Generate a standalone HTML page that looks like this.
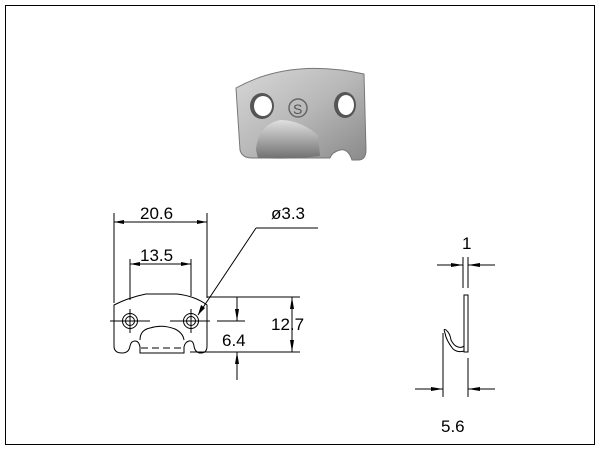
<!DOCTYPE html>
<html><head><style>
html,body{margin:0;padding:0;background:#fff;}
svg{display:block;}
text{font-family:"Liberation Sans",sans-serif;font-size:17px;fill:#000;}
</style></head><body>
<svg width="600" height="450" viewBox="0 0 600 450">
<defs>
<linearGradient id="g" x1="0" y1="0" x2="1" y2="1">
<stop offset="0" stop-color="#d8d8d8"/><stop offset="0.5" stop-color="#b8b8b8"/><stop offset="1" stop-color="#8a8a8a"/>
</linearGradient>
<linearGradient id="g2" x1="0" y1="0" x2="0" y2="1">
<stop offset="0" stop-color="#e0e0e0"/><stop offset="1" stop-color="#707070"/>
</linearGradient>
</defs>
<rect x="5.5" y="5.5" width="589" height="439" fill="none" stroke="#000" stroke-width="1"/>
<!-- photo -->
<path d="M236,88 Q290,58 364,74 L366,150 Q366,160 358,160 L352,160 Q348,148 340,150 Q332,152 330,158 L252,158 Q242,158 240,150 Z" fill="url(#g)" stroke="#777" stroke-width="1"/>
<ellipse cx="262" cy="106" rx="12" ry="13" fill="#555"/>
<ellipse cx="263" cy="106" rx="9" ry="10" fill="#fff"/>
<ellipse cx="345" cy="105" rx="11" ry="13" fill="#555"/>
<ellipse cx="346" cy="105" rx="8" ry="10" fill="#fff"/>
<circle cx="298" cy="108" r="9" fill="none" stroke="#666" stroke-width="1.5"/>
<text x="293" y="114" style="font-size:14px;fill:#555">S</text>
<path d="M256,150 Q258,125 280,120 Q300,120 318,135 L320,156 Q290,160 258,158 Z" fill="url(#g2)"/>
<!-- front view -->
<g stroke="#000" stroke-width="1" fill="none">
<line x1="114" y1="213" x2="114" y2="303"/>
<line x1="207" y1="213" x2="207" y2="298"/>
<line x1="114" y1="222" x2="207" y2="222"/>
<line x1="130" y1="259" x2="130" y2="300"/>
<line x1="191" y1="259" x2="191" y2="296"/>
<line x1="130" y1="264" x2="191" y2="264"/>
<path d="M114,305 Q130,297 146,294 L177,294 Q195,296 207,305 L207,346 Q207,353 201,353 Q195,353 194,346 Q193,340 189,341 Q185,342 184,347 L184,353 L140,353 L140,347 Q139,341 135,341 Q131,341 130,346 Q129,353 122,353 Q114,353 114,346 Z"/>
<path d="M140,340 Q140,330 150,328 Q162,324 175,329 Q183,333 184,340"/>
<line x1="141" y1="348" x2="183" y2="348" stroke-dasharray="7,4"/>
<circle cx="130" cy="321" r="7.5"/><circle cx="130" cy="321" r="4.5"/>
<circle cx="191" cy="321" r="7.5"/><circle cx="191" cy="321" r="4.5"/>
<line x1="110" y1="321" x2="150" y2="321"/>
<line x1="170" y1="321" x2="210" y2="321"/>
<line x1="130" y1="309" x2="130" y2="333"/>
<line x1="191" y1="309" x2="191" y2="333"/>
<line x1="198" y1="315" x2="256" y2="228"/>
<line x1="256" y1="228" x2="318" y2="228"/>
<line x1="207" y1="297" x2="300" y2="297"/>
<line x1="217" y1="321" x2="245" y2="321"/>
<line x1="190" y1="352" x2="300" y2="352"/>
<line x1="237" y1="297" x2="237" y2="321"/>
<line x1="237" y1="352" x2="237" y2="380"/>
<line x1="292" y1="297" x2="292" y2="352"/>
<!-- side view -->
<line x1="463" y1="257" x2="463" y2="288"/>
<line x1="468" y1="257" x2="468" y2="288"/>
<line x1="437" y1="265" x2="463" y2="265"/>
<line x1="468" y1="265" x2="495" y2="265"/>
<rect x="464" y="295" width="4" height="57"/>
<path d="M464,351 Q458,353 453,349 Q446,340 445,333 Q443,328 446,330 Q450,333 451,340 Q454,346 458,347 Q462,348 464,346"/>
<line x1="443" y1="333" x2="443" y2="397"/>
<line x1="468" y1="358" x2="468" y2="397"/>
<line x1="415" y1="389" x2="443" y2="389"/>
<line x1="468" y1="389" x2="495" y2="389"/>
</g>
<g fill="#000">
<polygon points="114,222 124,220 124,224"/><polygon points="207,222 197,220 197,224"/>
<polygon points="130,264 140,262 140,266"/><polygon points="191,264 181,262 181,266"/>
<polygon points="198,315 201,305 205,308"/>
<polygon points="237,321 235,309 239,309"/><polygon points="237,352 235,364 239,364"/>
<polygon points="292,297 290,309 294,309"/><polygon points="292,352 290,340 294,340"/>
<polygon points="463,265 451,263 451,267"/><polygon points="468,265 480,263 480,267"/>
<polygon points="443,389 431,387 431,391"/><polygon points="468,389 480,387 480,391"/>
</g>
<text x="140" y="219">20.6</text>
<text x="140" y="261">13.5</text>
<text x="271" y="219">ø3.3</text>
<text x="222" y="346">6.4</text>
<text x="271" y="330">12.7</text>
<text x="462" y="249">1</text>
<text x="441" y="432">5.6</text>
</svg>
</body></html>
